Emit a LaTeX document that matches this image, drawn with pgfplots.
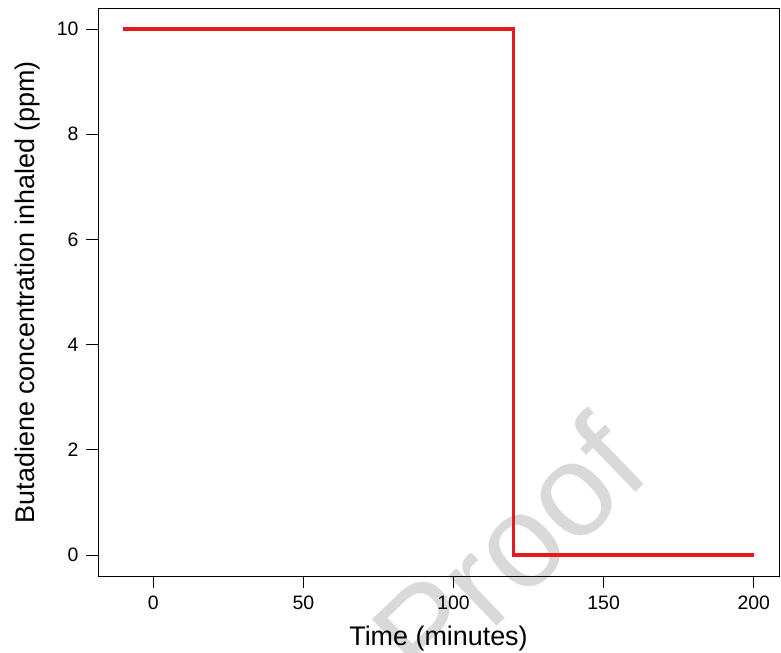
\documentclass[border=0pt]{standalone}
\usepackage{pgfplots}
\pgfplotsset{compat=1.18}
\usepackage{fontspec}
\setmainfont{Liberation Sans}
\definecolor{lred}{RGB}{228,26,28}
\definecolor{wm}{RGB}{217,217,217}
\begin{document}
\begin{tikzpicture}
\useasboundingbox (-98bp,-77bp) rectangle (683bp,576bp);
\node[rotate=44, text=wm, font=\fontsize{132}{132}\selectfont, inner sep=0pt] at (410bp,26bp) {Proof};
\begin{axis}[
 scale only axis, width=681bp, height=568bp,
 xmin=-18.4, xmax=208.4, ymin=-0.4, ymax=10.4,
 xtick={0,50,100,150,200}, ytick={0,2,4,6,8,10},
 tick pos=left, tick align=outside, major tick length=12bp,
 axis line style={line width=0.8bp},
 every tick/.style={black, line width=0.8bp},
 tick label style={font=\fontsize{19.5}{20}\selectfont},
 yticklabel style={xshift=-4bp},
 xticklabel style={yshift=-4bp},
 /pgf/number format/assume math mode=true,
 xlabel={Time (minutes)}, ylabel={Butadiene concentration inhaled (ppm)},
 label style={font=\fontsize{27}{28}\selectfont},
 xlabel style={at={([yshift=-69bp]axis description cs:0.5,0)}, anchor=base},
 ylabel style={at={([xshift=-63bp]axis description cs:0,0.5)}, anchor=base},
]
\addplot[lred, line width=3.5bp] coordinates {(-10,10)(120,10)(120,0)(200,0)};
\end{axis}
\end{tikzpicture}
\end{document}
